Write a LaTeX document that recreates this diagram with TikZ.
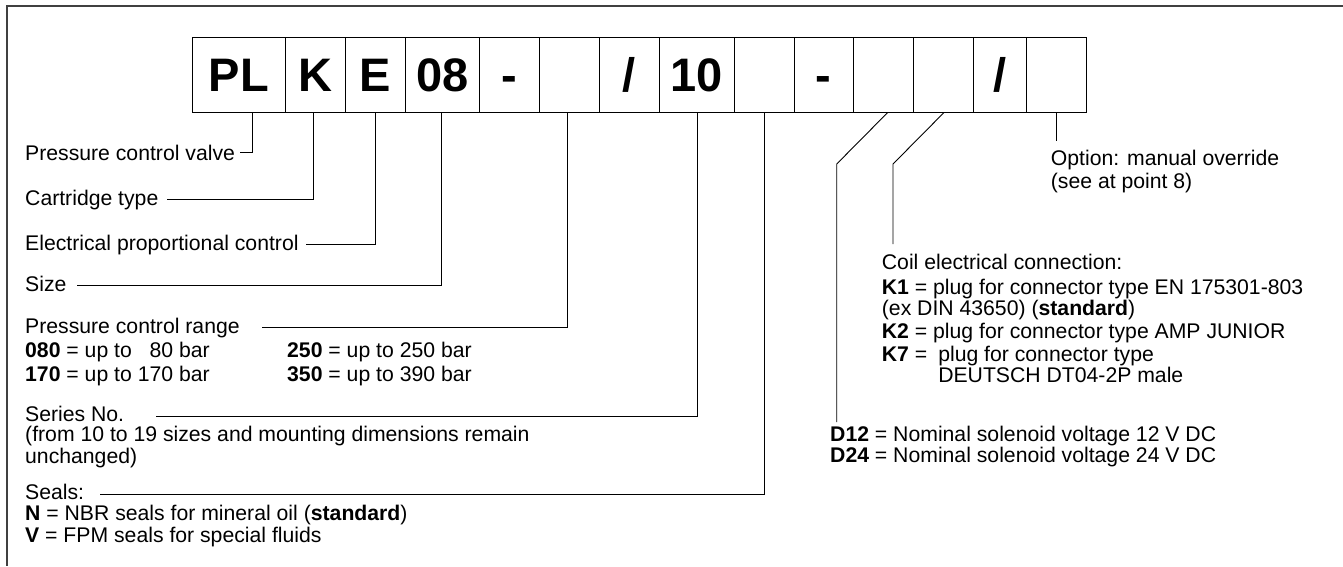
\documentclass[tikz,border=0pt]{standalone}
\usepackage{fontspec}
\setmainfont{Liberation Sans}
\usetikzlibrary{calc}
\begin{document}
\begin{tikzpicture}[x=1pt,y=-1pt,
  cell/.style={draw, line width=1pt, minimum height=75pt, inner sep=0pt,
    text height=33.7pt, text depth=0pt, font=\fontsize{47}{50}\selectfont\bfseries},
  lbl/.style={anchor=base west, inner sep=0pt, font=\fontsize{21.2}{25}\selectfont},
  lead/.style={line width=0.9pt},
  frame/.style={line width=1.3pt, black!75}
]
\useasboundingbox (0,0) rectangle (1343,566);
\draw[frame] (1343,6) -- (7,6) -- (7,566);

% code boxes
\node[cell, minimum width=93.3pt] (b1) at (238.7,74.5) {PL};
\node[cell, minimum width=59.7pt] (b2) at (315.2,74.5) {K};
\node[cell, minimum width=60pt]   (b3) at (375,74.5) {E};
\node[cell, minimum width=74.3pt] (b4) at (442.2,74.5) {08};
\node[cell, minimum width=60pt]   (b5) at (509.3,74.5) {-};
\node[cell, minimum width=60pt]   (b6) at (569.3,74.5) {};
\node[cell, minimum width=59.7pt] (b7) at (629.2,74.5) {/};
\node[cell, minimum width=75pt]   (b8) at (696.5,74.5) {10};
\node[cell, minimum width=60pt]   (b9) at (764,74.5) {};
\node[cell, minimum width=59.3pt] (b10) at (823.7,74.5) {-};
\node[cell, minimum width=60pt]   (b11) at (883.3,74.5) {};
\node[cell, minimum width=60pt]   (b12) at (943.3,74.5) {};
\node[cell, minimum width=53.2pt] (b13) at (999.9,74.5) {/};
\node[cell, minimum width=60.2pt] (b14) at (1056.6,74.5) {};

% left labels
\node[lbl] (t1) at (25,160) {Pressure control valve};
\node[lbl] (t2) at (25,205.5) {Cartridge type};
\node[lbl] (t3) at (25,250) {Electrical proportional control};
\node[lbl] (t4) at (25,291) {Size};
\node[lbl] (t5) at (25,333) {Pressure control range};
\node[lbl] (t5a) at (25,357) {\textbf{080} = up to \phantom{1}80 bar};
\node[lbl] (t5b) at (25,381) {\textbf{170} = up to 170 bar};
\node[lbl] (t5c) at (287,357) {\textbf{250} = up to 250 bar};
\node[lbl] (t5d) at (287,381) {\textbf{350} = up to 390 bar};
\node[lbl] (t6) at (25,421.5) {Series No.};
\node[lbl] (t6a) at (25,441) {(from 10 to 19 sizes and mounting dimensions remain};
\node[lbl] (t6b) at (25,463) {unchanged)};
\node[lbl] (t7) at (25,499.5) {Seals:};
\node[lbl] (t7a) at (25,520.5) {\textbf{N} = NBR seals for mineral oil (\textbf{standard})};
\node[lbl] (t7b) at (25,542) {\textbf{V} = FPM seals for special fluids};

% right labels
\node[lbl] (r1) at (1050.7,165) {Option: manual override};
\node[lbl] (r1a) at (1050.7,188) {(see at point 8)};
\node[lbl] (r2) at (881.7,269) {Coil electrical connection:};
\node[lbl] (r2a) at (881.7,294) {\textbf{K1} = plug for connector type EN 175301-803};
\node[lbl] (r2b) at (881.7,315) {(ex DIN 43650) (\textbf{standard})};
\node[lbl] (r2c) at (881.7,338) {\textbf{K2} = plug for connector type AMP JUNIOR};
\node[lbl] (r2d) at (881.7,361) {\textbf{K7} = \phantom{i}};
\node[lbl] (r2e) at (r2d.base east) {plug for connector type};
\node[lbl] (r2f) at ([yshift=-21pt]r2e.base west) {DEUTSCH DT04-2P male};
\node[lbl] (r3) at (830,441) {\textbf{D12} = Nominal solenoid voltage 12 V DC};
\node[lbl] (r3a) at (830,462) {\textbf{D24} = Nominal solenoid voltage 24 V DC};

% leader end points
\coordinate (e1) at (240,152.7);
\coordinate (e2) at (167,199);
\coordinate (e3) at (306,244);
\coordinate (e4) at (77,285.7);
\coordinate (e5) at (262,327.7);
\coordinate (e6) at (156,416.7);
\coordinate (e7) at (100,494);
\coordinate (d1) at (836.7,164);
\coordinate (d2) at (836.7,422);
\coordinate (k1) at (893,164);
\coordinate (k2) at (893,244);
\coordinate (o1) at (1056.6,141);

% leaders
\draw[lead] ([xshift=14pt]b1.south) |- (e1);
\draw[lead] ([xshift=-1.5pt]b2.south) |- (e2);
\draw[lead] (b3.south) |- (e3);
\draw[lead] ([xshift=-1pt]b4.south) |- (e4);
\draw[lead] ([xshift=-2pt]b6.south) |- (e5);
\draw[lead] ([xshift=1pt]b8.south) |- (e6);
\draw[lead] (b9.south) |- (e7);
\draw[lead] ([xshift=4.4pt]b11.south) -- (d1) -- (d2);
\draw[lead] ([xshift=0.7pt]b12.south) -- (k1) -- (k2);
\draw[lead] (b14.south) -- (o1);
\end{tikzpicture}
\end{document}
